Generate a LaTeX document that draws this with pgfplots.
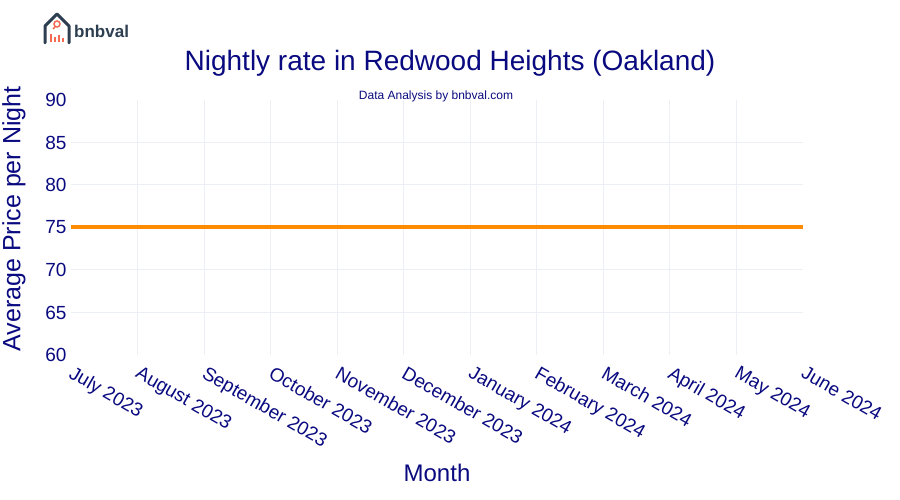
\documentclass[border=0pt]{standalone}
\usepackage{pgfplots}
\pgfplotsset{compat=1.18}
\usepackage{fontspec}
\setmainfont{Liberation Sans}
\definecolor{navy}{HTML}{0A0A80}
\definecolor{gridc}{HTML}{ECEFF6}
\definecolor{lineor}{HTML}{FF8C00}
\definecolor{logodark}{HTML}{2C3E50}
\definecolor{logocoral}{HTML}{F26B52}
\begin{document}
\begin{tikzpicture}[x=1pt,y=1pt]
\path[use as bounding box] (0,0) rectangle (900,500);
% logo
\draw[logodark, line width=3pt, line join=round, line cap=round] (45,457) -- (45,474) -- (57,486) -- (69,474) -- (69,457);
\draw[logocoral, line width=1.5pt] (57,476) circle (3pt);
\draw[logocoral, line width=1.5pt] (55,473) -- (53,471);
\fill[logocoral] (50,458) rectangle (52,466);
\fill[logocoral] (54,458) rectangle (56,463);
\fill[logocoral] (58,458) rectangle (60,465);
\fill[logocoral] (62,458) rectangle (64,462);
\node[anchor=west, text=logodark, font=\bfseries\fontsize{17}{20}\selectfont, inner sep=0] at (74,469) {bnbval};
% titles
\node[text=navy, font=\fontsize{28}{32}\selectfont] at (450,437) {Nightly rate in Redwood Heights (Oakland)};
\node[text=navy, font=\fontsize{12}{14}\selectfont] at (436,404) {Data Analysis by bnbval.com};
\node[text=navy, font=\fontsize{25}{29}\selectfont, rotate=90] at (14,281) {Average Price per Night};
\node[text=navy, font=\fontsize{24}{28}\selectfont] at (437,27) {Month};
\begin{axis}[
  at={(71pt,145pt)}, anchor=south west,
  width=732pt, height=255pt, scale only axis,
  xmin=0, xmax=11, ymin=60, ymax=90,
  xtick={0,...,11},
  xticklabels={July 2023,August 2023,September 2023,October 2023,November 2023,December 2023,January 2024,February 2024,March 2024,April 2024,May 2024,June 2024},
  ytick={60,65,...,90},
  extra x ticks={1,...,10},
  extra x tick labels={},
  extra y ticks={65,70,...,85},
  extra y tick labels={},
  extra tick style={grid=major},
  major grid style={draw=gridc, line width=1pt},
  axis line style={draw=none},
  tick style={draw=none},
  /pgf/number format/assume math mode=true,
  ticklabel style={text=navy, font=\fontsize{19}{22}\selectfont},
  xticklabel style={xshift=2.5pt, yshift=-5.5pt, rotate=-30, anchor=north west},
  yticklabel style={xshift=-1pt},
]
\addplot[lineor, line width=4pt] coordinates {
(0,75) (1,75) (2,75) (3,75) (4,75) (5,75) (6,75) (7,75) (8,75) (9,75) (10,75) (11,75)
};
\end{axis}
\end{tikzpicture}
\end{document}
